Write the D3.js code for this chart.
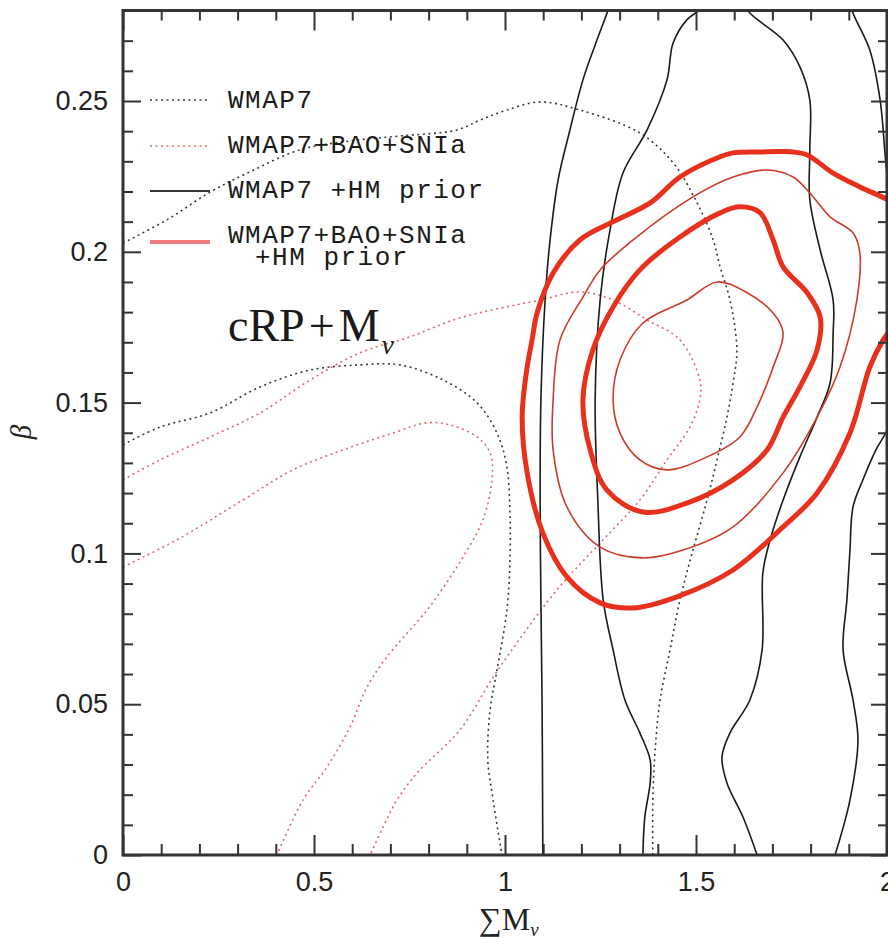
<!DOCTYPE html>
<html>
<head>
<meta charset="utf-8">
<script src="https://cdn.jsdelivr.net/npm/d3@7"></script>
<style>
  html, body { margin: 0; padding: 0; background: #fff; }
  svg { display: block; }
</style>
</head>
<body>
<svg id="chart" width="888" height="940"></svg>
<script>
// ---------------- data ----------------
const xDomain = [0, 2];
const yDomain = [0, 0.28];
const xTickValues = [0, 0.5, 1, 1.5, 2];
const xTickLabels = ["0", "0.5", "1", "1.5", "2"];
const yTickValues = [0, 0.05, 0.1, 0.15, 0.2, 0.25];
const yTickLabels = ["0", "0.05", "0.1", "0.15", "0.2", "0.25"];

const legendLabels = ["WMAP7", "WMAP7+BAO+SNIa", "WMAP7 +HM prior", "WMAP7+BAO+SNIa", "+HM prior"];
const panelLabelParts = ["cRP", "+", "M"];
const panelSub = "ν";

// WMAP7 (black dotted)
const wmapOuter = [[0,0.2029],[0.115,0.2106],[0.228,0.2198],[0.332,0.2265],[0.463,0.2338],[0.597,0.2368],[0.725,0.2384],[0.874,0.2404],[0.935,0.2437],[1.005,0.2470],[1.092,0.2497],[1.196,0.2470],[1.353,0.2394],[1.440,0.2295],[1.503,0.2162],[1.545,0.2039],[1.563,0.1950],[1.589,0.1840],[1.607,0.1675],[1.597,0.1565],[1.581,0.1452],[1.555,0.1310],[1.529,0.1177],[1.492,0.1011],[1.458,0.0846],[1.432,0.0680],[1.406,0.0514],[1.393,0.0348],[1.387,0.0182],[1.387,0]];
const wmapInner = [[0,0.1360],[0.097,0.1419],[0.228,0.1466],[0.359,0.1552],[0.490,0.1608],[0.620,0.1625],[0.725,0.1625],[0.838,0.1575],[0.927,0.1499],[0.979,0.1399],[1.005,0.1287],[1.013,0.1134],[1.013,0.0978],[1.005,0.0812],[0.979,0.0613],[0.961,0.0481],[0.955,0.0315],[0.969,0.0182],[0.992,0]];

// WMAP7+BAO+SNIa (red dotted)
const baoOuter = [[0,0.1244],[0.097,0.1310],[0.228,0.1386],[0.359,0.1466],[0.490,0.1575],[0.620,0.1665],[0.751,0.1718],[0.882,0.1781],[1.092,0.1840],[1.196,0.1867],[1.283,0.1840],[1.372,0.1774],[1.458,0.1708],[1.510,0.1575],[1.510,0.1509],[1.484,0.1419],[1.424,0.1310],[1.353,0.1177],[1.249,0.1035],[1.136,0.0879],[1.031,0.0703],[0.969,0.0590],[0.882,0.0415],[0.770,0.0272],[0.717,0.0182],[0.681,0.0093],[0.647,0]];
const baoInner = [[0,0.0955],[0.141,0.1045],[0.314,0.1177],[0.445,0.1277],[0.576,0.1343],[0.707,0.1399],[0.796,0.1433],[0.856,0.1426],[0.927,0.1386],[0.961,0.1333],[0.966,0.1244],[0.942,0.1111],[0.890,0.0988],[0.843,0.0895],[0.796,0.0812],[0.691,0.0657],[0.639,0.0557],[0.594,0.0424],[0.534,0.0292],[0.471,0.0182],[0.403,0]];
const baoBase = [[0,0],[0.647,0]];

// WMAP7 + HM prior (black solid)
const hm1 = [[1.099,0],[1.097,0.0514],[1.094,0.0846],[1.092,0.1177],[1.094,0.1509],[1.105,0.1840],[1.118,0.2039],[1.139,0.2238],[1.170,0.2404],[1.204,0.2570],[1.236,0.2686],[1.270,0.2802],[1.29,0.288]];
const hm2 = [[1.361,0],[1.366,0.0126],[1.380,0.0239],[1.380,0.0315],[1.353,0.0405],[1.314,0.0514],[1.283,0.0680],[1.257,0.0846],[1.243,0.1177],[1.236,0.1509],[1.249,0.1840],[1.275,0.2073],[1.309,0.2262],[1.372,0.2404],[1.424,0.2570],[1.440,0.2692],[1.476,0.2769],[1.510,0.2802],[1.54,0.284]];
const hm3 = [[1.62,0.286],[1.634,0.2802],[1.728,0.2702],[1.772,0.2613],[1.798,0.2503],[1.798,0.2338],[1.798,0.2172],[1.825,0.2006],[1.859,0.1840],[1.859,0.1731],[1.851,0.1565],[1.817,0.1452],[1.772,0.1320],[1.728,0.1177],[1.694,0.1045],[1.675,0.0935],[1.673,0.0680],[1.641,0.0514],[1.589,0.0405],[1.568,0.0325],[1.581,0.0239],[1.623,0.0126],[1.660,0]];
const hm4 = [[1.90,0.286],[1.908,0.2802],[1.955,0.2669],[1.982,0.2503],[1.998,0.2281],[2.02,0.205],[2.04,0.175],[2.02,0.150],[2.0,0.1409],[1.971,0.1343],[1.937,0.1244],[1.911,0.1154],[1.903,0.1011],[1.895,0.0846],[1.885,0.0680],[1.911,0.0514],[1.924,0.0381],[1.903,0.0182],[1.864,0]];

// WMAP7+BAO+SNIa + HM prior (red solid, thick)
const fullThickOuter = [[2.03,0.178],[2.003,0.1731],[1.990,0.1708],[1.955,0.1618],[1.903,0.1399],[1.817,0.1200],[1.728,0.1088],[1.597,0.0945],[1.450,0.0856],[1.335,0.0819],[1.249,0.0836],[1.162,0.0922],[1.099,0.1068],[1.058,0.1267],[1.045,0.1452],[1.058,0.1618],[1.071,0.1708],[1.084,0.1797],[1.126,0.1930],[1.196,0.2039],[1.275,0.2095],[1.380,0.2162],[1.458,0.2248],[1.563,0.2315],[1.597,0.2328],[1.668,0.2331],[1.754,0.2331],[1.791,0.2321],[1.859,0.2261],[1.929,0.2215],[2.003,0.2172],[2.03,0.215]];
const fullThickInner = [[1.230,0.1675],[1.283,0.1817],[1.353,0.1940],[1.458,0.2049],[1.563,0.2129],[1.615,0.2149],[1.668,0.2129],[1.702,0.2039],[1.728,0.1950],[1.791,0.1864],[1.825,0.1784],[1.817,0.1675],[1.772,0.1552],[1.728,0.1452],[1.686,0.1343],[1.597,0.1244],[1.476,0.1167],[1.361,0.1137],[1.267,0.1210],[1.223,0.1343],[1.204,0.1509]];
// thin red contours
const fullThinOuter = [[1.204,0.1850],[1.249,0.1940],[1.335,0.2039],[1.492,0.2182],[1.597,0.2248],[1.686,0.2271],[1.754,0.2248],[1.798,0.2195],[1.851,0.2116],[1.911,0.2063],[1.929,0.1996],[1.921,0.1840],[1.877,0.1618],[1.817,0.1452],[1.728,0.1267],[1.597,0.1088],[1.466,0.1011],[1.361,0.0985],[1.249,0.1021],[1.162,0.1154],[1.126,0.1343],[1.126,0.1509],[1.144,0.1708]];
const fullThinInner = [[1.476,0.1840],[1.555,0.1900],[1.634,0.1864],[1.702,0.1797],[1.728,0.1731],[1.702,0.1618],[1.660,0.1486],[1.615,0.1386],[1.529,0.1320],[1.424,0.1277],[1.353,0.1310],[1.301,0.1399],[1.283,0.1509],[1.301,0.1641],[1.361,0.1764]];

// ---------------- drawing ----------------
const svg = d3.select("#chart");
const x = d3.scaleLinear().domain(xDomain).range([123, 887]);
const y = d3.scaleLinear().domain(yDomain).range([855, 855 - 0.28 * 3016]);

const C = {
  axis: "#333",
  blackDot: "#3a3a3a",
  redDot: "#e06a6a",
  black: "#1a1a1a",
  redThick: "#e8301c",
  redThin: "#cf3a2a",
  legendThick: "#f07e7e"
};

svg.append("defs").append("clipPath").attr("id", "plotclip")
  .append("rect").attr("x", x(0)).attr("y", y(yDomain[1]))
  .attr("width", x(2) - x(0)).attr("height", y(0) - y(yDomain[1]));

const plot = svg.append("g").attr("clip-path", "url(#plotclip)");
const lineOpen = d3.line().x(d => x(d[0])).y(d => y(d[1])).curve(d3.curveCatmullRom.alpha(0.5));
const lineClosed = d3.line().x(d => x(d[0])).y(d => y(d[1])).curve(d3.curveCatmullRomClosed.alpha(0.5));
const lineStraight = d3.line().x(d => x(d[0])).y(d => y(d[1]));

function draw(data, gen, color, width, dash) {
  const p = plot.append("path").attr("d", gen(data)).attr("fill", "none")
    .attr("stroke", color).attr("stroke-width", width)
    .attr("stroke-linejoin", "round").attr("stroke-linecap", "round");
  if (dash) p.attr("stroke-dasharray", dash).attr("stroke-linecap", "butt");
}
const dots = "2,3.5";
draw(wmapOuter, lineOpen, C.blackDot, 1.6, dots);
draw(wmapInner, lineOpen, C.blackDot, 1.6, dots);
draw(baoOuter, lineOpen, C.redDot, 1.6, dots);
draw(baoInner, lineOpen, C.redDot, 1.6, dots);
draw(hm1, lineOpen, C.black, 1.6);
draw(hm2, lineOpen, C.black, 1.6);
draw(hm3, lineOpen, C.black, 1.6);
draw(hm4, lineOpen, C.black, 1.6);
draw(fullThinOuter, lineClosed, C.redThin, 1.6);
draw(fullThinInner, lineClosed, C.redThin, 1.6);
draw(fullThickOuter, lineOpen, C.redThick, 5);
draw(fullThickInner, lineClosed, C.redThick, 5);

// ---------------- axes ----------------
const minorX = d3.range(0, 2.0001, 0.1).filter(v => Math.abs(v * 2 - Math.round(v * 2)) > 1e-6);
const minorY = d3.range(0, 0.2801, 0.01).filter(v => Math.abs(v * 20 - Math.round(v * 20)) > 1e-6);
const fontAxis = "'Liberation Sans', Arial, Helvetica, sans-serif";

function styleAxis(g) {
  g.select(".domain").remove();
  g.selectAll(".tick line").attr("stroke", C.axis).attr("stroke-width", 2);
  g.selectAll(".tick text").attr("fill", "#222").style("font-family", fontAxis).style("font-size", "27px");
}

svg.append("g").attr("transform", `translate(0,${y(0)})`)
  .call(d3.axisBottom(x).tickValues(xTickValues).tickFormat((d, i) => xTickLabels[i]).tickSizeInner(-20).tickSizeOuter(0).tickPadding(17))
  .call(styleAxis);
svg.append("g").attr("transform", `translate(0,${y(0)})`)
  .call(d3.axisBottom(x).tickValues(minorX).tickFormat("").tickSizeInner(-11).tickSizeOuter(0)).call(styleAxis);
svg.append("g").attr("transform", `translate(0,${y(yDomain[1])})`)
  .call(d3.axisTop(x).tickValues(xTickValues).tickFormat("").tickSizeInner(-20).tickSizeOuter(0)).call(styleAxis);
svg.append("g").attr("transform", `translate(0,${y(yDomain[1])})`)
  .call(d3.axisTop(x).tickValues(minorX).tickFormat("").tickSizeInner(-10).tickSizeOuter(0)).call(styleAxis);

svg.append("g").attr("transform", `translate(${x(0)},0)`)
  .call(d3.axisLeft(y).tickValues(yTickValues).tickFormat((d, i) => yTickLabels[i]).tickSizeInner(-18).tickSizeOuter(0).tickPadding(15))
  .call(styleAxis);
svg.append("g").attr("transform", `translate(${x(0)},0)`)
  .call(d3.axisLeft(y).tickValues(minorY).tickFormat("").tickSizeInner(-10).tickSizeOuter(0)).call(styleAxis);
svg.append("g").attr("transform", `translate(${x(2)},0)`)
  .call(d3.axisRight(y).tickValues(yTickValues).tickFormat("").tickSizeInner(-16).tickSizeOuter(0)).call(styleAxis);
svg.append("g").attr("transform", `translate(${x(2)},0)`)
  .call(d3.axisRight(y).tickValues(minorY).tickFormat("").tickSizeInner(-9).tickSizeOuter(0)).call(styleAxis);

// frame
svg.append("rect").attr("x", x(0)).attr("y", y(yDomain[1]))
  .attr("width", x(2) - x(0)).attr("height", y(0) - y(yDomain[1]))
  .attr("fill", "none").attr("stroke", C.axis).attr("stroke-width", 3);

// axis titles
const serif = "'Liberation Serif', 'Times New Roman', serif";
const xt = svg.append("text").attr("x", 479).attr("y", 930)
  .style("font-family", serif).style("font-size", "32px").attr("fill", "#222");
xt.append("tspan").text("∑M");
xt.append("tspan").text("ν").attr("dy", 6).style("font-size", "19px").style("font-style", "italic");

svg.append("text").attr("transform", "translate(31,432) rotate(-90)")
  .attr("text-anchor", "middle").style("font-family", serif).style("font-size", "29px")
  .style("font-style", "italic").attr("fill", "#222").text("β");

// panel label
const pl = svg.append("text").attr("x", 228).attr("y", 341)
  .style("font-family", serif).style("font-size", "46px").attr("fill", "#1a1a1a");
pl.append("tspan").text(panelLabelParts[0]);
pl.append("tspan").text(panelLabelParts[1]).attr("dx", 4);
pl.append("tspan").text(panelLabelParts[2]).attr("dx", 4);
pl.append("tspan").text(panelSub).attr("dy", 13).attr("dx", 2).style("font-size", "28px").style("font-style", "italic");

// ---------------- legend ----------------
const mono = "'Liberation Mono', 'Courier New', monospace";
const legendItems = [
  { y: 100, color: C.blackDot, width: 1.6, dash: dots, label: legendLabels[0], base: 108 },
  { y: 146, color: C.redDot, width: 1.6, dash: dots, label: legendLabels[1], base: 153 },
  { y: 191, color: "#333", width: 1.8, dash: null, label: legendLabels[2], base: 198 },
  { y: 242, color: C.legendThick, width: 4, dash: null, label: legendLabels[3], base: 243 }
];
const lg = svg.append("g");
legendItems.forEach(it => {
  const l = lg.append("line").attr("x1", 150).attr("x2", 210).attr("y1", it.y).attr("y2", it.y)
    .attr("stroke", it.color).attr("stroke-width", it.width);
  if (it.dash) l.attr("stroke-dasharray", it.dash);
  lg.append("text").attr("x", 228).attr("y", it.base).text(it.label)
    .style("font-family", mono).style("font-size", "26px").style("letter-spacing", "1.5px")
    .attr("fill", "#1a1a1a").attr("xml:space", "preserve");
});
lg.append("text").attr("x", 255).attr("y", 265).text(legendLabels[4])
  .style("font-family", mono).style("font-size", "26px").style("letter-spacing", "1.5px")
  .attr("fill", "#1a1a1a");
</script>
</body>
</html>
